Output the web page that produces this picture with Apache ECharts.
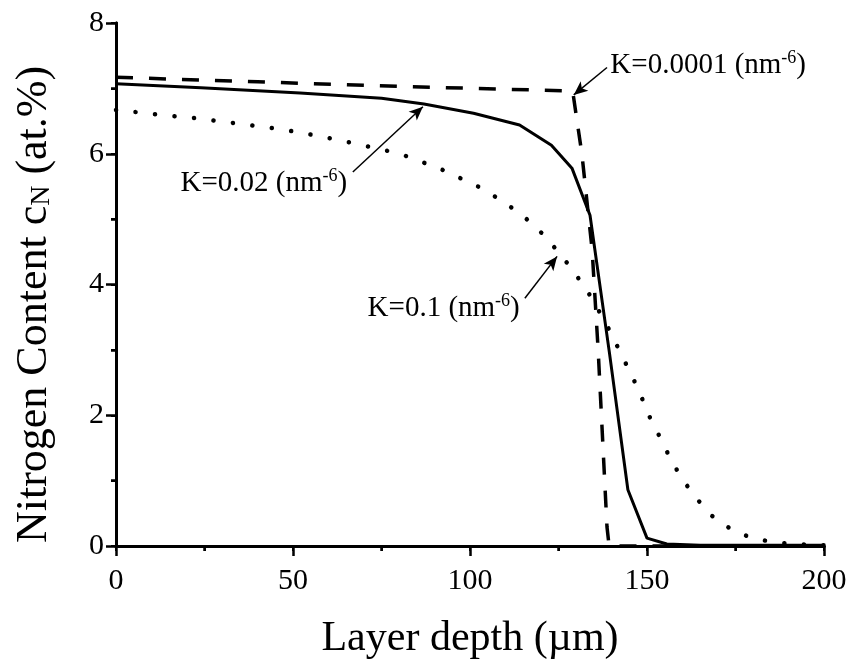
<!DOCTYPE html>
<html>
<head>
<meta charset="utf-8">
<script src="https://cdn.jsdelivr.net/npm/echarts@6/dist/echarts.min.js"></script>
<style>
html,body{margin:0;padding:0;background:#fff;}
#c{width:852px;height:666px;}
</style>
</head>
<body>
<div id="c"></div>
<script>
// K = 0.0001 nm^-6 (dashed)
const dashedX = [0, 40, 80, 129, 131.6, 134.5, 136.2, 138.7, 139.3, 170, 200];
const dashedY = [7.17, 7.10, 7.03, 6.96, 6.0, 4.53, 3.0, 0.29, 0.0, 0.0, 0.0];
// K = 0.02 nm^-6 (solid)
const solidX = [0, 24, 52, 75, 87, 101, 114, 123, 128.8, 133.9, 139.4, 144.6, 150, 155.6, 165, 200];
const solidY = [7.07, 7.01, 6.93, 6.85, 6.76, 6.62, 6.44, 6.13, 5.78, 5.06, 2.95, 0.86, 0.12, 0.03, 0.01, 0.01];
// K = 0.1 nm^-6 (dotted)
const dottedX = [0, 11.7, 23.2, 34.7, 46.1, 57.5, 68.9, 80.2, 91.6, 103, 108.7, 114.8, 120.4, 125.6, 129.8, 133.7, 136.9, 140, 142.8, 145.7, 148.2, 150.6, 153.5, 156.3, 159.5, 163.6, 168.4, 174.2, 179.8, 185.5, 191.2, 197, 200];
const dottedY = [6.67, 6.60, 6.54, 6.46, 6.38, 6.27, 6.14, 6.00, 5.77, 5.48, 5.29, 5.06, 4.78, 4.46, 4.16, 3.85, 3.55, 3.24, 2.92, 2.61, 2.31, 1.99, 1.68, 1.37, 1.06, 0.75, 0.46, 0.24, 0.12, 0.06, 0.03, 0.015, 0.01];

const xTicks = [0, 50, 100, 150, 200];
const yTicks = [0, 2, 4, 6, 8];

// annotation labels: text, [x, y] anchor, side; arrows: from -> to (data coords)
const annoText = ['K=0.0001 (nm', 'K=0.02 (nm', 'K=0.1 (nm'];
const annoPos = [[139.5, 7.35], [18.1, 5.55], [114.2, 3.64]];
const annoSide = ['right', 'right', 'left'];
const arrowFrom = [[138.7, 7.32], [66.9, 5.72], [115.5, 3.79]];
const arrowTo = [[129.3, 6.9], [86.7, 6.72], [124.6, 4.43]];

const FONT = '"Liberation Serif", "Times New Roman", serif';
const zip = (xs, ys) => xs.map((x, i) => [x, ys[i]]);

const chart = echarts.init(document.getElementById('c'), null, {renderer: 'canvas'});

const richAnno = {
  a: {fontFamily: FONT, fontSize: 29, color: '#000'},
  s: {fontFamily: FONT, fontSize: 18, color: '#000', verticalAlign: 'top', padding: [0, 0, 14, 0]}
};

const option = {
  animation: false,
  backgroundColor: '#fff',
  grid: {left: 116, right: 28, top: 23, bottom: 120, containLabel: false},
  xAxis: [{
    type: 'value', min: 0, max: 200, interval: 50, position: 'bottom',
    axisLine: {show: true, lineStyle: {color: '#000', width: 3}},
    axisTick: {show: true, inside: false, length: 10, lineStyle: {color: '#000', width: 2.5}},
    minorTick: {show: true, splitNumber: 2, length: 5, lineStyle: {color: '#000', width: 2.5}},
    axisLabel: {fontFamily: FONT, fontSize: 30, color: '#000', margin: 20,
      formatter: v => xTicks.includes(v) ? String(v) : ''},
    splitLine: {show: false},
    name: 'Layer depth (\u00b5m)', nameLocation: 'middle', nameGap: 72,
    nameTextStyle: {fontFamily: FONT, fontSize: 42, color: '#000'}
  }, {
    type: 'value', min: 0, max: 200, interval: 25, position: 'top',
    axisLine: {show: true, lineStyle: {color: '#000', width: 3}},
    axisTick: {show: true, inside: true, length: 5, lineStyle: {color: '#000', width: 2}},
    axisLabel: {show: false}, splitLine: {show: false}
  }],
  yAxis: [{
    type: 'value', min: 0, max: 8, interval: 2, position: 'left',
    axisLine: {show: true, lineStyle: {color: '#000', width: 3}},
    axisTick: {show: true, inside: false, length: 10, lineStyle: {color: '#000', width: 2.5}},
    minorTick: {show: true, splitNumber: 2, length: 5, lineStyle: {color: '#000', width: 2.5}},
    axisLabel: {fontFamily: FONT, fontSize: 30, color: '#000', margin: 12,
      formatter: v => yTicks.includes(v) ? String(v) : ''},
    splitLine: {show: false},
    name: '{a|Nitrogen Content c}{b|N}{a| (at.%)}', nameLocation: 'middle', nameGap: 60,
    nameTextStyle: {
      fontFamily: FONT, fontSize: 44, color: '#000', padding: [0, 40, 0, 0],
      rich: {
        a: {fontFamily: FONT, fontSize: 44, color: '#000'},
        b: {fontFamily: FONT, fontSize: 28, color: '#000', verticalAlign: 'bottom', padding: [16, 0, 0, 0]}
      }
    }
  }, {
    type: 'value', min: 0, max: 8, interval: 1, position: 'right',
    axisLine: {show: true, lineStyle: {color: '#000', width: 3}},
    axisTick: {show: true, inside: true, length: 5, lineStyle: {color: '#000', width: 2}},
    axisLabel: {show: false}, splitLine: {show: false}
  }],
  series: [{
    name: 'K=0.1', type: 'line', xAxisIndex: 0, yAxisIndex: 0,
    data: zip(dottedX, dottedY), showSymbol: false, smooth: false,
    lineStyle: {color: '#000', width: 4.5, type: [0.1, 19.5], cap: 'round', join: 'round'}
  }, {
    name: 'K=0.0001', type: 'line', xAxisIndex: 0, yAxisIndex: 0,
    data: zip(dashedX, dashedY), showSymbol: false,
    lineStyle: {color: '#000', width: 3.5, type: [17, 16]}
  }, {
    name: 'K=0.02', type: 'line', xAxisIndex: 0, yAxisIndex: 0,
    data: zip(solidX, solidY), showSymbol: false,
    lineStyle: {color: '#000', width: 3},
    markLine: {
      silent: true, symbol: ['none', 'arrow'], symbolSize: [9, 14],
      lineStyle: {color: '#000', width: 1.5, type: 'solid'},
      label: {show: false},
      data: arrowFrom.map((f, i) => [{coord: f}, {coord: arrowTo[i]}])
    },
    markPoint: {
      silent: true, symbol: 'circle', symbolSize: 1,
      itemStyle: {color: 'rgba(0,0,0,0)'},
      data: annoPos.map((p, i) => ({
        coord: p,
        label: {
          show: true, position: annoSide[i], distance: 0,
          formatter: '{a|' + annoText[i] + '}{s|-6}{a|)}',
          rich: richAnno
        }
      }))
    }
  }]
};
chart.setOption(option);
</script>
</body>
</html>
